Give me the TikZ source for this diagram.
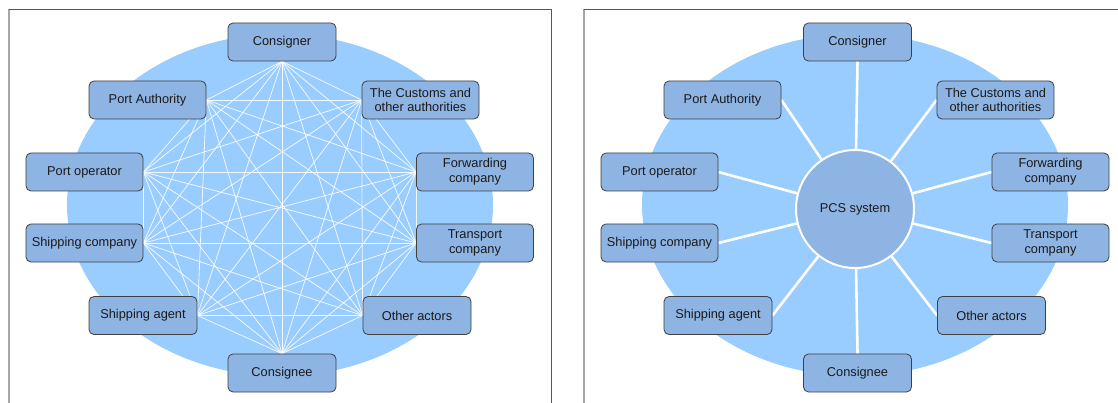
\documentclass[tikz,border=0pt]{standalone}
\usepackage{fontspec}
\setmainfont{Liberation Sans}
\usetikzlibrary{backgrounds}
\definecolor{bigblue}{HTML}{99CCFF}
\definecolor{boxblue}{HTML}{8EB4E3}
\definecolor{framedark}{HTML}{555555}
\definecolor{framelight}{HTML}{A6A6A6}
\definecolor{txt}{HTML}{1A1A1A}
\tikzset{
  actor/.style={draw=black!75, fill=boxblue, rounded corners=5pt, minimum height=38pt,
    align=center, inner sep=0pt, text=txt, line width=0.8pt,
    font=\fontsize{12.8}{14.7}\selectfont},
  wide/.style={actor, minimum width=117pt},
  narrow/.style={actor, minimum width=108pt},
  link/.style={white, line width=0.8pt, opacity=0.85},
  spoke/.style={white, line width=2.6pt},
  pcsnode/.style={circle, fill=boxblue, draw=white, line width=2pt, minimum size=118pt,
    inner sep=0pt, text=txt, font=\fontsize{12.8}{14.7}\selectfont}
}
\begin{document}
\begin{tikzpicture}[x=1pt, y=-1pt]
\useasboundingbox (0,0) rectangle (1118,403);

% left panel nodes
\node[narrow] (cs) at (282,42) {Consigner};
\node[wide]   (pa) at (147.5,100) {Port Authority};
\node[wide]   (po) at (84.5,172) {Port operator};
\node[wide]   (sc) at (84.5,243) {Shipping company};
\node[narrow] (sa) at (143,315.5) {Shipping agent};
\node[narrow] (ce) at (282,373) {Consignee};
\node[narrow] (oa) at (417,315.5) {Other actors};
\node[wide]   (tr) at (475,243) {Transport\\company};
\node[wide]   (fw) at (475,172) {Forwarding\\company};
\node[wide]   (cu) at (420.5,100) {The Customs and\\other authorities};

% right panel nodes
\node[narrow] (rcs) at (857.5,42) {Consigner};
\node[wide]   (rpa) at (722.5,100) {Port Authority};
\node[wide]   (rpo) at (659.5,172) {Port operator};
\node[wide]   (rsc) at (659.5,243) {Shipping company};
\node[narrow] (rsa) at (718,315.5) {Shipping agent};
\node[narrow] (rce) at (857.5,373) {Consignee};
\node[narrow] (roa) at (991.5,315.5) {Other actors};
\node[wide]   (rtr) at (1050.5,243) {Transport\\company};
\node[wide]   (rfw) at (1050.5,172) {Forwarding\\company};
\node[wide]   (rcu) at (995.5,100) {The Customs and\\other authorities};
\node[pcsnode] (pcs) at (855,209) {PCS system};

\begin{scope}[on background layer]
  \fill[white] (0,0) rectangle (1118,403);
  % frames
  \draw[framelight, line width=1.6pt] (9,403) -- (9,9.3);
  \draw[framedark, line width=0.8pt] (9,9.3) -- (551.5,9.3) -- (551.5,403);
  \draw[framelight, line width=1.6pt] (584,403) -- (584,9.3);
  \draw[framedark, line width=0.8pt] (584,9.3) -- (1118,9.3);
  \fill[bigblue] (280,205) ellipse [x radius=213pt, y radius=171pt];
  \fill[bigblue] (855,205) ellipse [x radius=213pt, y radius=171pt];
  \foreach \a [count=\i] in {cs.south,pa.east,po.east,sc.east,sa.east,ce.north,oa.west,tr.west,fw.west,cu.west}{
    \foreach \b [count=\j] in {cs.south,pa.east,po.east,sc.east,sa.east,ce.north,oa.west,tr.west,fw.west,cu.west}{
      \ifnum\j>\i \draw[link] (\a) -- (\b); \fi
    }
  }
  \draw[spoke] (pcs) -- (rcs.south);
  \draw[spoke] (pcs) -- (rpa.east);
  \draw[spoke] (pcs) -- (rpo.east);
  \draw[spoke] (pcs) -- (rsc.east);
  \draw[spoke] (pcs) -- (rsa.east);
  \draw[spoke] (pcs) -- (rce.north);
  \draw[spoke] (pcs) -- (roa.west);
  \draw[spoke] (pcs) -- (rtr.west);
  \draw[spoke] (pcs) -- (rfw.west);
  \draw[spoke] (pcs) -- (rcu.west);
\end{scope}
\end{tikzpicture}
\end{document}
